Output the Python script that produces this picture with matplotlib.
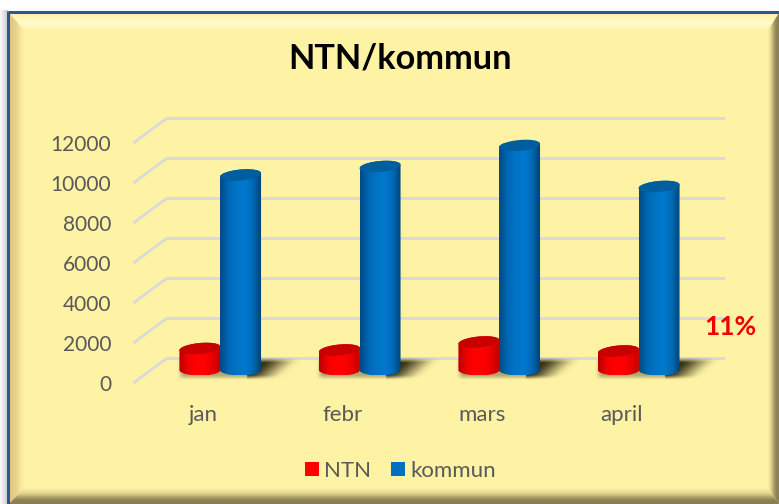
import matplotlib
matplotlib.use("Agg")
import matplotlib.pyplot as plt
import numpy as np
from matplotlib.patches import Patch, Polygon, Rectangle
from matplotlib.colors import LinearSegmentedColormap

plt.rcParams["font.family"] = ["Lato", "DejaVu Sans"]

months = ["jan", "febr", "mars", "april"]
ntn = [1075, 1000, 1400, 950]
kommun = [9750, 10175, 11225, 9175]
y_ticks = [0, 2000, 4000, 6000, 8000, 10000, 12000]

PANEL = "#FEF2A5"
GRID = "#D9D9D9"
TEXT = "#595959"
DEPTH_X = 0.244
DEPTH_Y = 1250
HALF_W = 0.147
RY = 275
TILT = 90

red_cmap = LinearSegmentedColormap.from_list(
    "red3d", ["#B80000", "#F00000", "#FF0000", "#FF0000", "#E80000", "#C00000"])
blue_cmap = LinearSegmentedColormap.from_list(
    "blue3d", ["#004A84", "#0068B4", "#0074C6", "#0078CE", "#0068B4", "#00406E"])


def bevel_band(bg, corners, extent, colors, vertical):
    cmap = LinearSegmentedColormap.from_list("band", colors)
    ramp = np.linspace(0, 1, 64)
    ramp = ramp.reshape(-1, 1) if vertical else ramp.reshape(1, -1)
    patch = Polygon(corners, closed=True, fc="none", ec="none")
    bg.add_patch(patch)
    im = bg.imshow(ramp, cmap=cmap, extent=extent, origin="upper", aspect="auto",
                   interpolation="bilinear", vmin=0, vmax=1, zorder=2)
    im.set_clip_path(patch)


def draw_frame(fig):
    bg = fig.add_axes([0, 0, 1, 1], zorder=0)
    bg.axis("off")
    L, T, R, B = 9, 13, 779, 504
    iL, iT, iR, iB = 24, 30, 768, 488
    bg.imshow(np.linspace(0.97, 0.8, 8).reshape(1, -1), extent=(0, 8, 504, 10),
              cmap="gray", vmin=0, vmax=1, aspect="auto", zorder=1)
    bg.add_patch(Rectangle((L, T), R - L, B - T, fc=PANEL, ec="none", zorder=1))
    bevel_band(bg, [(L, T), (R, T), (iR, iT), (iL, iT)], (L, R, iT, T),
               ["#FFF3A8", "#FFF5AE", "#FFF7B8", "#FFFBD2", "#FFF8BC", PANEL], True)
    bevel_band(bg, [(L, T), (iL, iT), (iL, iB), (L, B)], (L, iL, B, T),
               ["#DFC67E", "#E2CB84", "#E8D48C", "#F6E59A", PANEL], False)
    bevel_band(bg, [(R, T), (R, B), (iR, iB), (iR, iT)], (iR, R, B, T),
               [PANEL, "#E4D48F", "#B5A76C", "#8F8358", "#8A7E55"], False)
    bevel_band(bg, [(L, B), (iL, iB), (iR, iB), (R, B)], (L, R, B, iB),
               [PANEL, "#EFE09A", "#D8C986", "#A89B63", "#8A7E55", "#8A7E55"], True)
    bg.plot([8, 8], [11, 504], color="#2F5597", lw=2.2, solid_capstyle="butt", zorder=3)
    bg.plot([8, 779], [12, 12], color="#2F5597", lw=2.2, solid_capstyle="butt", zorder=3)
    bg.set_xlim(0, 779)
    bg.set_ylim(504, 0)


def draw_cylinder(ax, cx, value, base, cmap, top_color, z):
    t = np.linspace(0, np.pi, 60)
    top_y = base + value
    xs_top = cx + HALF_W * np.cos(t)
    ys_top = top_y + RY * np.sin(t) + TILT * np.cos(t)
    xs_bot = cx + HALF_W * np.cos(t + np.pi)
    ys_bot = base + RY * np.sin(t + np.pi)
    body = Polygon(np.column_stack([np.r_[xs_top, xs_bot], np.r_[ys_top, ys_bot]]),
                   closed=True, transform=ax.transData, fc="none", ec="none")
    ax.add_patch(body)
    im = ax.imshow(np.linspace(0, 1, 64).reshape(1, -1), cmap=cmap, aspect="auto",
                   extent=(cx - HALF_W, cx + HALF_W, base - RY, top_y + RY + TILT),
                   zorder=z, interpolation="bilinear")
    im.set_clip_path(body)
    t2 = np.linspace(0, 2 * np.pi, 120)
    ax.add_patch(Polygon(
        np.column_stack([cx + HALF_W * np.cos(t2),
                         top_y + RY * np.sin(t2) + TILT * np.cos(t2)]),
        closed=True, fc=top_color, ec="none", zorder=z + 0.1, clip_on=False))


def smooth(v):
    v = np.clip(v, 0, 1)
    return v * v * (3 - 2 * v)


def draw_shadow(ax, x_left, x_right, base):
    # cast shadow wedge running back along the floor, darkest beside the blue bar
    xs = np.linspace(x_left - 0.08, x_right + 0.32, 260)
    ys = np.linspace(base - 650, base + 800, 110)
    X, Y = np.meshgrid(xs, ys)
    sk = X - (Y - base) * 0.000166

    body = smooth((X - x_left + 0.02) / 0.06) * smooth((x_right + 0.24 - sk) / 0.12)
    vert = smooth((Y - (base - 520)) / 300) * smooth((base + 660 - Y) / 320)
    fade = 1 - smooth((sk - x_right + 0.06) / 0.26)
    strength = np.where(X < x_right - 0.1, 0.38, 0.9 * fade + 0.1)
    rgba = np.zeros(X.shape + (4,))
    rgba[..., :3] = (0.2, 0.18, 0.08)
    rgba[..., 3] = body * vert * strength
    ax.imshow(rgba, extent=(xs[0], xs[-1], ys[0], ys[-1]), origin="lower",
              aspect="auto", zorder=2, interpolation="bilinear", clip_on=False)


fig = plt.figure(figsize=(7.79, 5.04), dpi=100, facecolor="white")
draw_frame(fig)

ax = fig.add_axes([133.25 / 779, 121 / 504, 558 / 779, 240 / 504], zorder=1)
ax.patch.set_alpha(0)
for side in ax.spines.values():
    side.set_visible(False)

for v in y_ticks:
    ax.plot([-0.5, -0.5 + DEPTH_X], [v, v + DEPTH_Y], color=GRID, lw=2, zorder=1,
            clip_on=False, solid_capstyle="butt")
    ax.plot([-0.5 + DEPTH_X, 3.5 + DEPTH_X], [v + DEPTH_Y, v + DEPTH_Y], color=GRID,
            lw=2, zorder=1, clip_on=False, solid_capstyle="butt")

for i in range(len(months)):
    mid = i + DEPTH_X / 2
    base = DEPTH_Y / 2 + 25
    draw_shadow(ax, mid - 2 * HALF_W, mid + 2 * HALF_W, base)
    draw_cylinder(ax, mid - HALF_W + 0.003, ntn[i], base, red_cmap, "#C80000", 3)
    draw_cylinder(ax, mid + HALF_W, kommun[i], base, blue_cmap, "#005E9E", 4)

ax.set_xlim(-0.5, 3.5)
ax.set_ylim(0, 12000)
ax.set_xticks(range(len(months)))
ax.set_xticklabels(months)
ax.set_yticks(y_ticks)
ax.tick_params(length=0, labelcolor=TEXT)
ax.tick_params(axis="x", pad=16, labelsize=16)
ax.tick_params(axis="y", pad=16, labelsize=15)

fig.text(400.5 / 779, 1 - 58 / 504, "NTN/kommun", ha="center", va="center",
         fontsize=24.7, fontweight="bold", color="black")
fig.text(730 / 779, 1 - 327 / 504, "11%", ha="center", va="center",
         fontsize=19, fontweight="bold", color="#F00000")

handles = [Patch(fc="#FF0000", ec="none", label="NTN"),
           Patch(fc="#0070C0", ec="none", label="kommun")]
fig.legend(handles=handles, loc="center", bbox_to_anchor=(400.5 / 779, 1 - 471 / 504),
           ncol=2, frameon=False, fontsize=16, labelcolor=TEXT, handlelength=0.63,
           handleheight=0.63, handletextpad=0.24, columnspacing=0.9)

fig.savefig("out.png", dpi=100)
plt.close(fig)
